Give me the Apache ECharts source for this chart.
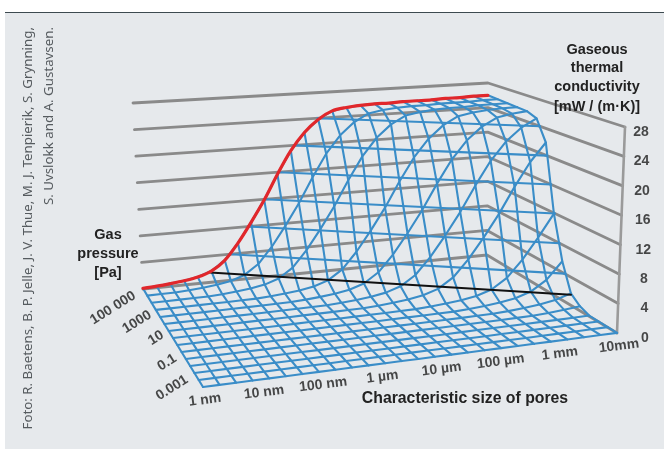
<!DOCTYPE html>
<html><head><meta charset="utf-8">
<style>html,body{margin:0;padding:0;background:#fff}#c{width:664px;height:449px}</style>
<script src="https://cdn.jsdelivr.net/npm/echarts@6/dist/echarts.min.js"></script>
</head><body><div id="c"></div>
<script>
// ---- data ----
const sizeLabels = ['1 nm','10 nm','100 nm','1 µm','10 µm','100 µm','1 mm','10mm'];
const pressureLabels = ['0.001','0.1','10','1000','100 000'];
const conductivityTicks = [0,4,8,12,16,20,24,28];
// conductivity by pore-size column; row00 = lowest pressure, row14 = highest pressure
const row00=[0,0,0,0,0,0,0,0,0,0,0,0,0,0,0,0,0,0,0,0,0,0,0,.01,.02,.02];
const row01=[0,0,0,0,0,0,0,0,0,0,0,0,0,0,0,0,0,0,0,0,0,.01,.02,.02,.03,.04];
const row02=[0,0,0,0,0,0,0,0,0,0,0,0,0,0,0,0,0,0,0,.01,.02,.02,.03,.04,.05,.06];
const row03=[0,0,0,0,0,0,0,0,0,0,0,0,0,0,0,0,0,.01,.02,.02,.03,.04,.05,.06,.08,.1];
const row04=[0,0,0,0,0,0,0,0,0,0,0,0,0,0,.01,.02,.02,.03,.04,.05,.06,.08,.1,.22,.4,.63];
const row05=[0,0,0,0,0,0,0,0,0,0,0,0,.01,.02,.02,.03,.04,.05,.06,.08,.1,.22,.4,.63,1,1.7];
const row06=[0,0,0,0,0,0,0,0,0,0,.01,.02,.02,.03,.04,.05,.06,.08,.1,.22,.4,.63,1,1.7,3.15,5.6];
const row07=[0,0,0,0,0,0,0,0,.01,.02,.02,.03,.04,.05,.06,.08,.1,.22,.4,.63,1,1.7,3.15,5.6,8.6,11.9];
const row08=[0,0,0,0,0,.01,.02,.02,.03,.04,.05,.06,.08,.1,.22,.4,.63,1,1.7,3.15,5.6,8.6,11.9,15.7,19.2,21.9];
const row09=[0,0,0,.01,.02,.02,.03,.04,.05,.06,.08,.1,.22,.4,.63,1,1.7,3.15,5.6,8.6,11.9,15.7,19.2,21.9,23.8,25];
const row10=[0,.01,.02,.02,.03,.04,.05,.06,.08,.1,.22,.4,.63,1,1.7,3.15,5.6,8.6,11.9,15.7,19.2,21.9,23.8,25,25.4,25.6];
const row11=[.02,.02,.03,.04,.05,.06,.08,.1,.22,.4,.63,1,1.7,3.15,5.6,8.6,11.9,15.7,19.2,21.9,23.8,25,25.4,25.6,25.7,25.7];
const row12=[.04,.05,.06,.08,.1,.22,.4,.63,1,1.7,3.15,5.6,8.6,11.9,15.7,19.2,21.9,23.8,25,25.4,25.6,25.7,25.7,25.8,25.8,25.8];
const row13=[.06,.08,.1,.22,.4,.63,1,1.7,3.15,5.6,8.6,11.9,15.7,19.2,21.9,23.8,25,25.4,25.6,25.7,25.7,25.8,25.8,25.8,25.9,25.9];
const row14=[.1,.22,.4,.63,1,1.7,3.15,5.6,8.6,11.9,15.7,19.2,21.9,23.8,25,25.4,25.6,25.7,25.7,25.8,25.8,25.8,25.9,25.9,26,26];
const surfaceRows=[row00,row01,row02,row03,row04,row05,row06,row07,row08,row09,row10,row11,row12,row13,row14];
// iso-conductivity lines: level, column where it meets the high-pressure edge, row where it meets the large-pore edge
const contourLevels=[4,8,12,16,20,24];
const contourCols=[6.43,7.77,9.02,10.09,11.25,12.95];
const contourRows=[5.73,6.33,6.88,7.35,7.875,8.63];
const blackLevel=[1.5]; const blackCol=[4.9]; const blackRow=[4.99];

// ---- oblique projection of the 3-D box onto the flat axes ----
const nC=row00.length-1, nR=surfaceRows.length-1, zMax=28;
const B={fl:[203,387],fr:[617,333],bl:[143,289],br:[487,255]};
const H={fl:[-2,-205],fr:[8,-206],bl:[-10,-186],br:[1,-172]};
function bil(Q,u,v,i){return (1-u)*(1-v)*Q.fl[i]+u*(1-v)*Q.fr[i]+(1-u)*v*Q.bl[i]+u*v*Q.br[i];}
function proj(c,r,z){const u=c/nC,v=r/nR,t=z/zMax;
  return [bil(B,u,v,0)+t*bil(H,u,v,0), bil(B,u,v,1)+t*bil(H,u,v,1)];}

const series=[];
function line(pts,color,width,z,smooth){series.push({type:'line',data:pts,showSymbol:false,symbol:'none',silent:true,
  clip:false,z:z,smooth:smooth||false,lineStyle:{color:color,width:width,cap:'round',join:'round'},animation:false});}
const GREY='#8a8a8a', BLUE='#3a8dc8', RED='#e1272b';
// walls
conductivityTicks.forEach(z=>{line([proj(0,nR,z),proj(nC,nR,z),proj(nC,0,z)],GREY,2.8,2);});
line([proj(nC,0,0),proj(nC,0,zMax)],'#9a9a9a',2.6,2);
// mesh
surfaceRows.forEach((row,r)=>{ line(row.map((z,c)=>proj(c,r,z)),BLUE,2.1,3); });
for(let c=0;c<=nC;c++){ line(surfaceRows.map((row,r)=>proj(c,r,row[c])),BLUE,2.1,3); }
contourLevels.forEach((z,i)=>{ line([proj(contourCols[i],nR,z),proj(nC,contourRows[i],z)],BLUE,2.1,3); });
// black iso-line and red edge
line([proj(blackCol[0],nR,blackLevel[0]),proj(nC,blackRow[0],blackLevel[0])],'#111',2,4);
line(row14.map((z,c)=>proj(c,nR,z)),RED,3.2,5,0.3);

// tick labels
const FONT='"Liberation Sans",Arial,sans-serif';
function labels(items){series.push({type:'scatter',symbolSize:0,silent:true,z:6,animation:false,clip:false,
  data:items.map(o=>({name:o.t,value:o.p,label:{rotate:o.rot||0}})),
  label:{show:true,position:'inside',formatter:'{b}',fontFamily:FONT,fontWeight:'bold',fontSize:14,color:'#1d1d1d'}});}
labels(sizeLabels.map((t,i)=>{const p=proj(i/(sizeLabels.length-1)*nC,0,0);return {t,p:[p[0]+2,p[1]+13],rot:7};}));
const pOff=[[-31,1],[-21,0],[-17,0],[-21,8.5],[-30,19]];
labels(pressureLabels.map((t,i)=>{const p=proj(0,i/(pressureLabels.length-1)*nR,0);return {t,p:[p[0]+pOff[i][0],p[1]+pOff[i][1]],rot:32};}));
labels(conductivityTicks.map(z=>{const p=proj(nC,0,z);return {t:String(z),p:[p[0]+28-z*0.43,p[1]+5]};}));

function txt(t,x,y,fs){return {type:'text',x:x,y:y,z:7,silent:true,style:{text:t,font:'bold '+fs+'px '+FONT,fill:'#222',textAlign:'center',textVerticalAlign:'middle'}};}
function side(t,x){return {type:'text',x:x,y:27,rotation:Math.PI/2,z:7,silent:true,style:{text:t,font:'13.3px "Noto Sans"',fill:'#565b5f',textAlign:'right',textVerticalAlign:'middle'}};}
const graphic=[
 {type:'rect',shape:{x:5,y:12,width:659,height:437},style:{fill:'#e6e9ec'},z:-5,silent:true},
 {type:'rect',shape:{x:5,y:12,width:659,height:1},style:{fill:'#3d4a50'},z:-4,silent:true},
 txt('Gaseous',597,50,14.5),txt('thermal',597,68,14.5),txt('conductivity',597,87,14.5),txt('[mW / (m·K)]',597,107,14.5),
 txt('Gas',108,235,14.5),txt('pressure',108,254,14.5),txt('[Pa]',108,273,14.5),
 txt('Characteristic size of pores',465,399,15.8),
 side('Foto: R. Baetens, B. P. Jelle, J. V. Thue, M. J. Tenpierik, S. Grynning,',28),
 side('S. Uvslokk and A. Gustavsen.',49)
];
const chart=echarts.init(document.getElementById('c'),null,{renderer:'canvas'});
chart.setOption({animation:false,backgroundColor:'#ffffff',
 grid:{left:0,right:0,top:0,bottom:0},
 xAxis:{type:'value',min:0,max:664,show:false},
 yAxis:{type:'value',min:0,max:449,inverse:true,show:false},
 graphic:graphic,series:series});
</script></body></html>
